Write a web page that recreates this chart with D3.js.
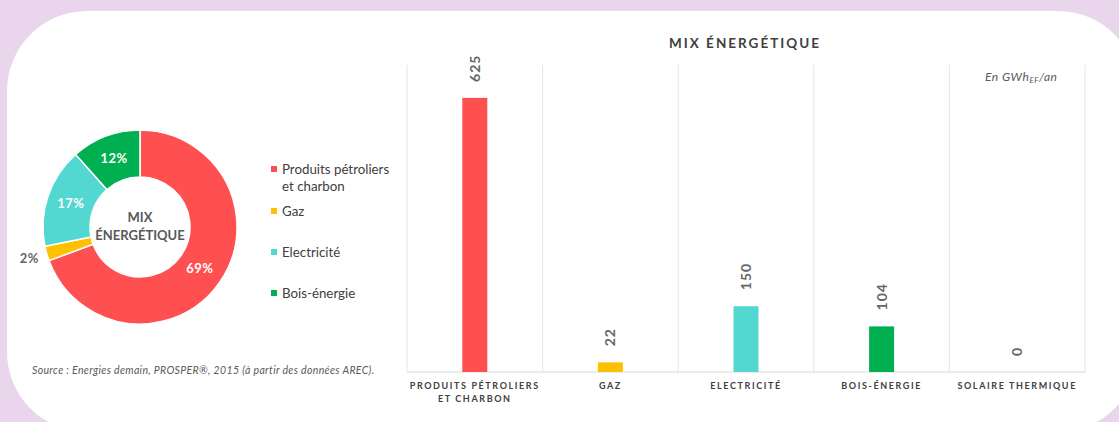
<!DOCTYPE html>
<html>
<head>
<meta charset="utf-8">
<script src="https://cdn.jsdelivr.net/npm/d3@7"></script>
<style>
  html, body { margin: 0; padding: 0; background: #e9d6ec; }
  svg { display: block; font-family: Lato, "Open Sans", sans-serif; }
</style>
</head>
<body>
<div id="chart"></div>
<script>
// data
var categories = ["Produits pétroliers et charbon", "Gaz", "Electricité", "Bois-énergie", "Solaire thermique"];
var axisLabels = [["PRODUITS PÉTROLIERS", "ET CHARBON"], ["GAZ"], ["ELECTRICITÉ"], ["BOIS-ÉNERGIE"], ["SOLAIRE THERMIQUE"]];
var values = [625, 22, 150, 104, 0];
var colors = ["#fe5050", "#ffc000", "#52d8d0", "#00b050", "#999999"];
var legendLabels = [["Produits pétroliers", "et charbon"], ["Gaz"], ["Electricité"], ["Bois-énergie"]];

var W = 1119, H = 422;
var svg = d3.select("#chart").append("svg")
    .attr("width", W)
    .attr("height", H);

// white card
svg.append("rect")
    .attr("x", 7).attr("y", 11)
    .attr("width", 1131).attr("height", 421)
    .attr("rx", 80)
    .attr("fill", "#fff");

//---------------- donut
var total = d3.sum(values);
var pieData = values.slice(0, 4).map(function(v, i){ return {name: categories[i], value: v, color: colors[i]}; });

var pie = d3.pie().sort(null).value(function(d){ return d.value; });
var arc = d3.arc().innerRadius(50).outerRadius(97);
var labelArc = d3.arc().innerRadius(73).outerRadius(73);
var outArc = d3.arc().innerRadius(115).outerRadius(115);

var donut = svg.append("g").attr("transform", "translate(140,227)");
var slices = donut.selectAll(".slice")
    .data(pie(pieData))
    .enter().append("g").attr("class", "slice");

slices.append("path")
    .attr("d", arc)
    .attr("fill", function(d){ return d.data.color; })
    .attr("stroke", "#fff")
    .attr("stroke-width", 1.5);

slices.append("text")
    .attr("transform", function(d){
        var small = d.data.value / total < 0.05;
        return "translate(" + (small ? outArc : labelArc).centroid(d) + ")";
    })
    .attr("text-anchor", "middle")
    .attr("dy", "0.35em")
    .attr("font-size", 13)
    .attr("font-weight", "bold")
    .attr("letter-spacing", 0.5)
    .attr("fill", function(d){ return d.data.value / total < 0.05 ? "#666" : "#fff"; })
    .text(function(d){ return Math.round(d.data.value / total * 100) + "%"; });

donut.append("text")
    .attr("text-anchor", "middle")
    .attr("font-size", 13)
    .attr("font-weight", "bold")
    .attr("fill", "#595959")
    .selectAll("tspan")
    .data(["MIX", "ÉNERGÉTIQUE"])
    .enter().append("tspan")
    .attr("x", 0)
    .attr("y", function(d, i){ return -5 + i * 18; })
    .text(function(d){ return d; });

// legend
var legendY = [170, 212, 253, 294];
var legend = svg.append("g");
legendLabels.forEach(function(lines, i){
    legend.append("rect")
        .attr("x", 271).attr("y", legendY[i] - 4)
        .attr("width", 6).attr("height", 6)
        .attr("fill", colors[i]);
    legend.append("text")
        .attr("font-size", 13.3)
        .attr("fill", "#404040")
        .selectAll("tspan")
        .data(lines).enter().append("tspan")
        .attr("x", 282)
        .attr("y", function(d, j){ return legendY[i] + 4 + j * 17; })
        .text(function(d){ return d; });
});

svg.append("text")
    .attr("x", 32).attr("y", 374)
    .attr("font-size", 10.5)
    .attr("font-style", "italic")
    .attr("letter-spacing", 0.35)
    .attr("fill", "#595959")
    .text("Source : Energies demain, PROSPER®, 2015 (à partir des données AREC).");

//---------------- bar chart
var x = d3.scaleBand().domain(categories).range([407, 1085]);
var y = d3.scaleLinear().domain([0, 700]).range([372, 65]);
var barW = 25;

var grid = svg.append("g");
grid.selectAll("line")
    .data(d3.range(categories.length + 1))
    .enter().append("line")
    .attr("x1", function(i){ return 407 + i * x.bandwidth(); })
    .attr("x2", function(i){ return 407 + i * x.bandwidth(); })
    .attr("y1", y(700)).attr("y2", y(0))
    .attr("stroke", "#e6e6e6");

grid.append("line")
    .attr("x1", 407).attr("x2", 1085)
    .attr("y1", y(0)).attr("y2", y(0))
    .attr("stroke", "#d9d9d9");

svg.selectAll(".bar")
    .data(values)
    .enter().append("rect")
    .attr("class", "bar")
    .attr("x", function(d, i){ return x(categories[i]) + x.bandwidth() / 2 - barW / 2; })
    .attr("width", barW)
    .attr("y", function(d){ return y(d); })
    .attr("height", function(d){ return y(0) - y(d); })
    .attr("fill", function(d, i){ return colors[i]; });

svg.selectAll(".val")
    .data(values)
    .enter().append("text")
    .attr("class", "val")
    .attr("transform", function(d, i){
        return "translate(" + (x(categories[i]) + x.bandwidth() / 2) + "," + (y(d) - 16) + ") rotate(-90)";
    })
    .attr("dy", "0.35em")
    .attr("font-size", 14)
    .attr("font-weight", "bold")
    .attr("letter-spacing", 1)
    .attr("fill", "#666")
    .text(function(d){ return d; });

// category labels
axisLabels.forEach(function(lines, i){
    svg.append("text")
        .attr("text-anchor", "middle")
        .attr("font-size", 9)
        .attr("font-weight", "bold")
        .attr("letter-spacing", 1.6)
        .attr("fill", "#404040")
        .selectAll("tspan")
        .data(lines).enter().append("tspan")
        .attr("x", x(categories[i]) + x.bandwidth() / 2)
        .attr("y", function(d, j){ return 389 + j * 13; })
        .text(function(d){ return d; });
});

svg.append("text")
    .attr("x", 745).attr("y", 48)
    .attr("text-anchor", "middle")
    .attr("font-size", 13.5)
    .attr("font-weight", "bold")
    .attr("letter-spacing", 2)
    .attr("fill", "#404040")
    .text("MIX ÉNERGÉTIQUE");

var unit = svg.append("text")
    .attr("x", 985).attr("y", 81)
    .attr("font-size", 12)
    .attr("font-style", "italic")
    .attr("letter-spacing", 0.5)
    .attr("fill", "#595959");
unit.append("tspan").text("En GWh");
unit.append("tspan").attr("font-size", 8).attr("dy", 2).text("EF");
unit.append("tspan").attr("dy", -2).text("/an");
</script>
</body>
</html>
